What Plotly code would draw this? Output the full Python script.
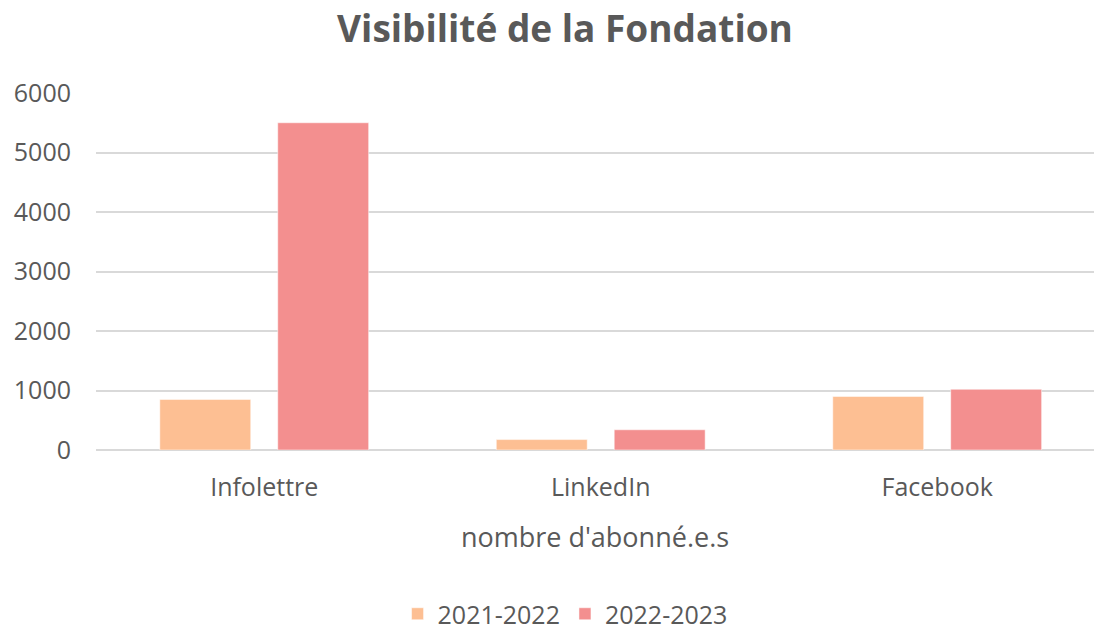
import plotly.graph_objects as go

categories = ["Infolettre", "LinkedIn", "Facebook"]
series_names = ["2021-2022", "2022-2023"]
values_2021_2022 = [850, 175, 900]
values_2022_2023 = [5500, 340, 1020]
y_ticks = [0, 1000, 2000, 3000, 4000, 5000, 6000]

colors = ["#FDBF93", "#F38F8F"]
FONT = "Open Sans"
GRAY = "#595959"

fig = go.Figure()
for name, vals, col in zip(series_names, [values_2021_2022, values_2022_2023], colors):
    fig.add_trace(go.Bar(x=categories, y=vals, name=name,
                         marker=dict(color=col, line=dict(color="rgba(255,255,255,0.5)", width=1))))

fig.update_layout(
    width=1094, height=629,
    paper_bgcolor="white", plot_bgcolor="white",
    margin=dict(l=96, r=0, t=93, b=179, autoexpand=False),
    barmode="group", bargap=0.299, bargroupgap=0.229,
    font=dict(family=FONT, color=GRAY, size=25),
    title=dict(text="<b>Visibilité de la Fondation</b>", x=565 / 1094, xref="container", xanchor="center",
               y=1 - 29 / 629, yref="container", yanchor="middle",
               font=dict(family=FONT, size=37, color=GRAY)),
    legend=dict(orientation="h", x=0.47, xanchor="center", y=1 - 614 / 629, yref="container",
                yanchor="middle", font=dict(size=25, color=GRAY), traceorder="normal"),
    xaxis=dict(range=[-0.5, 2.466], showgrid=False, showline=False, ticks="",
               tickfont=dict(size=25, color=GRAY), ticklabelstandoff=20,
               title=dict(text="nombre d'abonné.e.s", standoff=26, font=dict(size=27, color=GRAY))),
    yaxis=dict(range=[0, 6000], tickvals=y_ticks, showgrid=True, gridcolor="#D9D9D9", gridwidth=1.5,
               zeroline=True, zerolinecolor="#D9D9D9", zerolinewidth=1.5, showline=False, ticks="",
               tickfont=dict(size=25, color=GRAY), ticklabelstandoff=24),
)

fig.write_html("out.html", config={"displayModeBar": False},
               post_script="document.body.style.margin='0';")
